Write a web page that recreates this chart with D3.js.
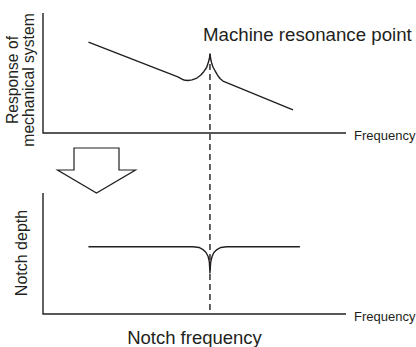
<!DOCTYPE html>
<html>
<head>
<meta charset="utf-8">
<script src="https://cdnjs.cloudflare.com/ajax/libs/d3/7.8.5/d3.min.js"></script>
<style>
  body { margin: 0; background: #fff; }
  svg { display: block; font-family: 'Liberation Sans', Arial, sans-serif; }
  text { fill: #231f20; }
</style>
</head>
<body>
<script>
// response of the mechanical system (frequency 0-100, response 0-100)
var respFreq  = [15, 44.5, 45.9, 46.9, 47.9, 49.2, 50.8, 52.1, 53.1, 54, 54.6, 54.95, 55.1, 55.3, 55.6, 56.1, 56.8, 57.6, 58.4, 59.4, 82.5];
var respValue = [75.8, 46.7, 44.8, 43.9, 43.7, 44.3, 45.8, 48.3, 51.3, 54.6, 59.2, 62.5, 65.8, 62.5, 58.8, 55, 51.7, 48.3, 45.4, 43.3, 19.2];

// notch filter depth
var notchFreq  = [15, 49.5, 51.5, 52.8, 53.8, 54.5, 54.9, 55.1, 55.35, 55.8, 56.4, 57.4, 58.7, 60.7, 84.8];
var notchDepth = [55.6, 55.6, 55, 53.3, 50.8, 47.5, 43, 33.9, 43, 47.5, 50.8, 53.3, 55, 55.6, 55.6];

var resonanceFreq = 55.1;
var resonancePeak = 65.8;

var W = 416, H = 347;
var svg = d3.select("body").append("svg").attr("width", W).attr("height", H);

var x = d3.scaleLinear().domain([0, 100]).range([43, 346]);
var yTop = d3.scaleLinear().domain([0, 100]).range([133, 13]);
var yBot = d3.scaleLinear().domain([0, 100]).range([314, 193]);

var ink = "#231f20";

// axes (plain L shapes)
function axes(y) {
  svg.append("path")
    .attr("d", "M" + x(0) + "," + y(100) + "V" + y(0) + "H" + x(100))
    .attr("fill", "none").attr("stroke", ink).attr("stroke-width", 1.4);
  svg.append("text")
    .attr("x", x(100) + 8).attr("y", y(0) + 7)
    .attr("font-size", 13)
    .text("Frequency");
}
axes(yTop);
axes(yBot);

// dashed resonance marker
svg.append("line")
  .attr("x1", x(resonanceFreq)).attr("x2", x(resonanceFreq))
  .attr("y1", yTop(resonancePeak)).attr("y2", yBot(0))
  .attr("stroke", ink).attr("stroke-width", 1.4)
  .attr("stroke-dasharray", "6,4");

var topLine = d3.line().x(d => x(d[0])).y(d => yTop(d[1]));
svg.append("path")
  .attr("d", topLine(d3.zip(respFreq, respValue)))
  .attr("fill", "none").attr("stroke", ink).attr("stroke-width", 1.4)
  .attr("stroke-linejoin", "round");

var botLine = d3.line().x(d => x(d[0])).y(d => yBot(d[1]));
svg.append("path")
  .attr("d", botLine(d3.zip(notchFreq, notchDepth)))
  .attr("fill", "none").attr("stroke", ink).attr("stroke-width", 1.4)
  .attr("stroke-linejoin", "round");

// big down arrow between the panels
var ax = 96.5, ay0 = 148, ay1 = 170, ay2 = 193;
svg.append("path")
  .attr("d", "M" + (ax - 22.5) + "," + ay0 + "H" + (ax + 22.5) + "V" + ay1 + "H" + (ax + 39) +
             "L" + ax + "," + ay2 + "L" + (ax - 39) + "," + ay1 + "H" + (ax - 22.5) + "Z")
  .attr("fill", "#fff").attr("stroke", ink).attr("stroke-width", 1.2);

// labels
svg.append("text")
  .attr("x", 203).attr("y", 41)
  .attr("font-size", 18.7)
  .text("Machine resonance point");

svg.append("text")
  .attr("x", 194.5).attr("y", 344)
  .attr("text-anchor", "middle")
  .attr("font-size", 18.5)
  .text("Notch frequency");

var yLab = svg.append("text")
  .attr("transform", "translate(17.5,80) rotate(-90)")
  .attr("text-anchor", "middle")
  .attr("font-size", 15.7);
yLab.append("tspan").attr("x", 0).attr("y", 0).text("Response of");
yLab.append("tspan").attr("x", 0).attr("y", 16).text("mechanical system");

svg.append("text")
  .attr("transform", "translate(27,253) rotate(-90)")
  .attr("text-anchor", "middle")
  .attr("font-size", 16)
  .text("Notch depth");
</script>
</body>
</html>
